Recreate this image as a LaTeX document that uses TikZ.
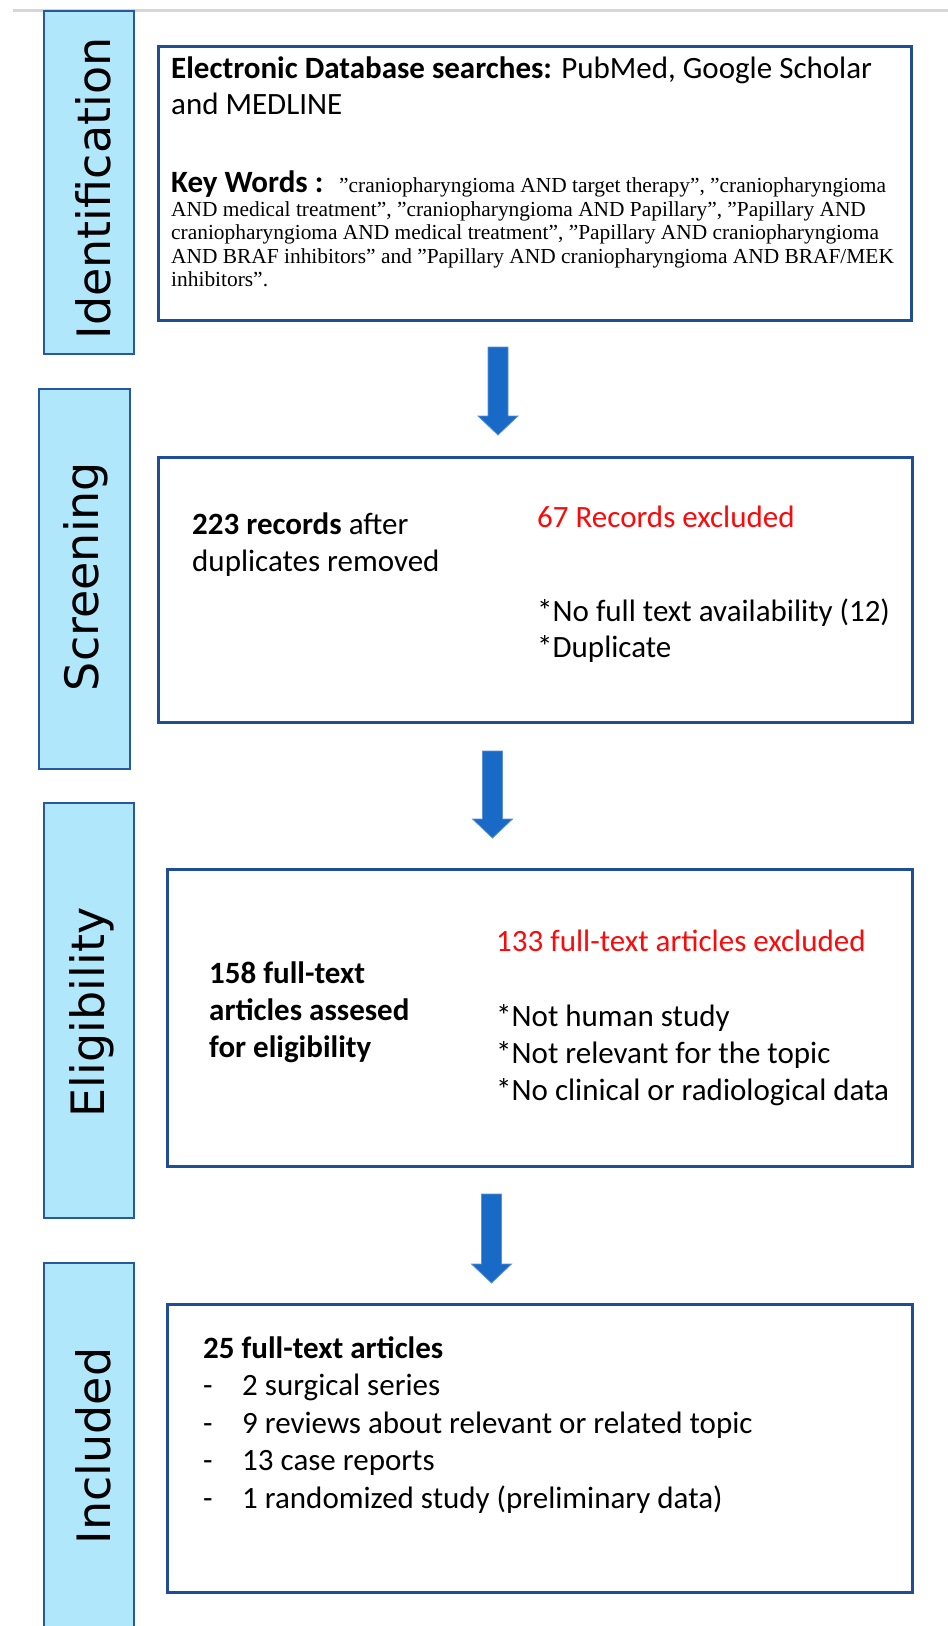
\documentclass[tikz,border=0pt]{standalone}
\usepackage{fontspec}
\setmainfont{Carlito}
\newfontfamily\kwserif[Ligatures=TeX]{Liberation Serif}
\newfontfamily\stagesans{DejaVu Sans}
\definecolor{boxblue}{RGB}{31,78,150}
\definecolor{sidefill}{RGB}{176,231,250}
\definecolor{sideline}{RGB}{40,88,160}
\definecolor{arrowblue}{RGB}{24,106,198}
\definecolor{arrowedge}{RGB}{90,145,210}
\definecolor{exclred}{RGB}{250,10,10}
\definecolor{rulegray}{RGB}{214,214,214}
\begin{document}
\begin{tikzpicture}[x=1pt,y=-1pt,
  mainbox/.style={draw=boxblue,line width=3pt,fill=white,inner sep=0pt},
  sidebox/.style={draw=sideline,line width=2pt,fill=sidefill,inner sep=0pt},
  stagelabel/.style={rotate=90,anchor=base,inner sep=0pt,font=\fontsize{46}{50}\stagesans},
  bodytext/.style={anchor=base west,inner sep=0pt,font=\fontsize{31}{37}\selectfont},
  kwtext/.style={anchor=base west,inner sep=0pt,font=\fontsize{21.4}{23.5}\kwserif},
  excltext/.style={bodytext,text=exclred},
  blockarrow/.style={fill=arrowblue,draw=arrowedge,line width=0.8pt,line join=miter}
]
\useasboundingbox (0,0) rectangle (948,1626);

% thin rule along the top edge
\draw[rulegray,line width=3pt] (13,10) -- (948,10);

% stage bars on the left
\node[sidebox,minimum width=90,minimum height=343] (s1) at (89,182.5) {};
\node[sidebox,minimum width=91,minimum height=380] (s2) at (84.5,579) {};
\node[sidebox,minimum width=90,minimum height=415] (s3) at (89,1010.5) {};
\node[sidebox,minimum width=90,minimum height=397] (s4) at (89,1461.5) {};

\node[stagelabel] (t1) at (110,188.5) {Identification};
\node[stagelabel] (t2) at (98,576.5) {Screening};
\node[stagelabel] (t3) at (104,1012.5) {Eligibility};
\node[stagelabel] (t4) at (110,1446) {Included};

% main boxes
\node[mainbox,minimum width=753,minimum height=274] (b1) at (534.5,183) {};
\node[mainbox,minimum width=754,minimum height=265] (b2) at (535,589.5) {};
\node[mainbox,minimum width=745,minimum height=297] (b3) at (539.5,1017.5) {};
\node[mainbox,minimum width=745,minimum height=288] (b4) at (539.5,1448) {};

% identification
\node[bodytext,font=\fontsize{31}{36}\selectfont] (db) at (171,78)
  {\begin{tabular}[t]{@{}l@{}}{\bfseries Electronic Database searches:} PubMed, Google Scholar\\and MEDLINE\end{tabular}};
\node[bodytext] (kw) at (171,192) {\bfseries Key Words :};
\node[kwtext] (kw1) at (339,192) {''craniopharyngioma AND target therapy'', ''craniopharyngioma};
\node[kwtext] (kw2) at (171,216)
  {\begin{tabular}[t]{@{}l@{}}AND medical treatment'', ''craniopharyngioma AND Papillary'', ''Papillary AND\\
  craniopharyngioma AND medical treatment'', ''Papillary AND craniopharyngioma\\
  AND BRAF inhibitors'' and ''Papillary AND craniopharyngioma AND BRAF/MEK\\
  inhibitors''.\end{tabular}};

% screening
\node[bodytext] (rec) at (192,534)
  {\begin{tabular}[t]{@{}l@{}}{\bfseries 223 records} after\\duplicates removed\end{tabular}};
\node[excltext] (ex1) at (537,527) {67 Records excluded};
\node[bodytext,font=\fontsize{31}{36}\selectfont] (why1) at (537,621)
  {\begin{tabular}[t]{@{}l@{}}*No full text availability (12)\\{}*Duplicate\end{tabular}};

% eligibility
\node[excltext] (ex2) at (496,951) {133 full-text articles excluded};
\node[bodytext] (elig) at (209,983)
  {\begin{tabular}[t]{@{}l@{}}\bfseries 158 full-text\\\bfseries articles assesed\\\bfseries for eligibility\end{tabular}};
\node[bodytext] (why2) at (496,1026)
  {\begin{tabular}[t]{@{}l@{}}*Not human study\\{}*Not relevant for the topic\\{}*No clinical or radiological data\end{tabular}};

% included
\node[bodytext,font=\fontsize{31}{37.5}\selectfont] (inc) at (203,1358)
  {\begin{tabular}[t]{@{}l@{}l@{}}\multicolumn{2}{@{}l@{}}{\bfseries 25 full-text articles}\\
  \makebox[39pt][l]{-}&2 surgical series\\
  \makebox[39pt][l]{-}&9 reviews about relevant or related topic\\
  \makebox[39pt][l]{-}&13 case reports\\
  \makebox[39pt][l]{-}&1 randomized study (preliminary data)\end{tabular}};

% block arrows between the stages
\coordinate (a1) at (498,347);
\coordinate (a2) at (492.5,751);
\coordinate (a3) at (491.5,1194);
\path[blockarrow] (a1) ++(-10,0) -- ++(20,0) -- ++(0,69) -- ++(10,0) -- ++(-20,19) -- ++(-20,-19) -- ++(10,0) -- cycle;
\path[blockarrow] (a2) ++(-10,0) -- ++(20,0) -- ++(0,68) -- ++(10,0) -- ++(-20,19) -- ++(-20,-19) -- ++(10,0) -- cycle;
\path[blockarrow] (a3) ++(-10,0) -- ++(20,0) -- ++(0,70) -- ++(10,0) -- ++(-20,19) -- ++(-20,-19) -- ++(10,0) -- cycle;
\end{tikzpicture}
\end{document}
